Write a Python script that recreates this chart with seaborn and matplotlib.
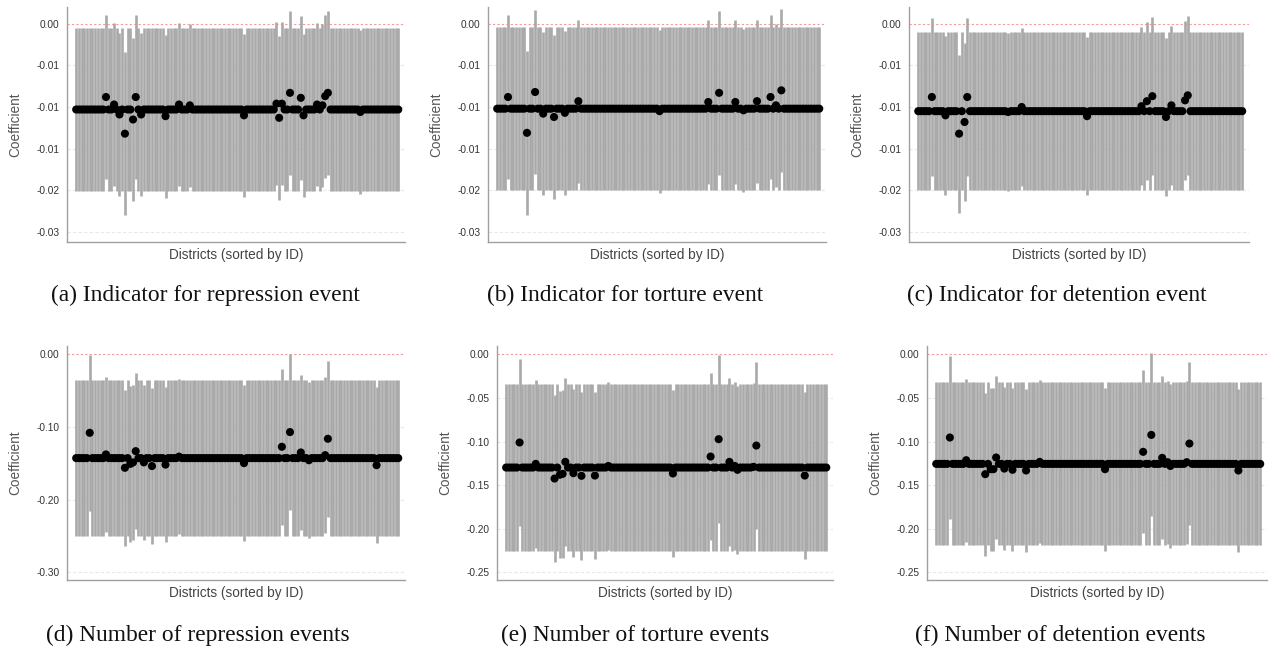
import matplotlib
matplotlib.use("Agg")
import matplotlib.pyplot as plt
import numpy as np
import pandas as pd
import seaborn as sns

N_DISTRICTS = 120

# (a) indicator for repression event
rep_ind_base = -0.0103
rep_ind_half = 0.0098
rep_ind_dev = {11: -0.0088, 14: -0.0097, 16: -0.0109, 18: -0.0132, 21: -0.0115,
               22: -0.0088, 24: -0.0109, 33: -0.0111, 38: -0.0097, 42: -0.0098,
               62: -0.0110, 74: -0.0096, 75: -0.0113, 76: -0.0096, 79: -0.0083,
               83: -0.0089, 84: -0.0110, 89: -0.0097, 91: -0.0098, 92: -0.0087,
               93: -0.0083, 105: -0.0106}

# (b) indicator for torture event
tor_ind_base = -0.0102
tor_ind_half = 0.0098
tor_ind_dev = {4: -0.0088, 11: -0.0131, 14: -0.0082, 17: -0.0108, 21: -0.0112,
               25: -0.0107, 30: -0.0093, 60: -0.0105, 78: -0.0094, 82: -0.0083,
               88: -0.0094, 91: -0.0104, 96: -0.0093, 101: -0.0088, 103: -0.0098,
               105: -0.0080}

# (c) indicator for detention event
det_ind_base = -0.0105
det_ind_half = 0.0095
det_ind_dev = {5: -0.0088, 10: -0.0110, 15: -0.0132, 17: -0.0118, 18: -0.0088,
               33: -0.0106, 38: -0.0100, 62: -0.0111, 82: -0.0099, 84: -0.0093,
               86: -0.0087, 91: -0.0112, 93: -0.0098, 98: -0.0092, 99: -0.0086}

# (d) number of repression events
rep_num_base = -0.1431
rep_num_half = 0.1070
rep_num_dev = {5: -0.1083, 11: -0.1380, 18: -0.1564, 20: -0.1510, 21: -0.1490,
               22: -0.1335, 25: -0.1490, 28: -0.1540, 33: -0.1520, 38: -0.1410,
               62: -0.1500, 76: -0.1275, 79: -0.1073, 83: -0.1353, 85: -0.1430,
               86: -0.1460, 92: -0.1390, 93: -0.1165, 111: -0.1528}

# (e) number of torture events
tor_num_base = -0.1298
tor_num_half = 0.0960
tor_num_dev = {5: -0.1011, 11: -0.1256, 18: -0.1424, 20: -0.1380, 21: -0.1370,
               22: -0.1233, 25: -0.1363, 28: -0.1393, 33: -0.1390, 38: -0.1280,
               62: -0.1366, 76: -0.1172, 79: -0.0973, 83: -0.1233, 85: -0.1280,
               86: -0.1324, 92: -0.1290, 93: -0.1046, 111: -0.1390}

# (f) number of detention events
det_num_base = -0.1256
det_num_half = 0.0935
det_num_dev = {5: -0.0954, 11: -0.1214, 18: -0.1374, 20: -0.1317, 21: -0.1317,
               22: -0.1183, 25: -0.1310, 28: -0.1324, 33: -0.1332, 38: -0.1233,
               62: -0.1317, 76: -0.1118, 79: -0.0924, 83: -0.1187, 85: -0.1237,
               86: -0.1280, 92: -0.1237, 93: -0.1023, 111: -0.1332}

captions = ["(a) Indicator for repression event", "(b) Indicator for torture event",
            "(c) Indicator for detention event", "(d) Number of repression events",
            "(e) Number of torture events", "(f) Number of detention events"]

small_ticks = [0.0, -0.005, -0.010, -0.015, -0.020, -0.025]
small_labels = ["0.00", "-0.01", "-0.01", "-0.01", "-0.02", "-0.03"]
rep_ticks = [0.0, -0.1, -0.2, -0.3]
rep_labels = ["0.00", "-0.10", "-0.20", "-0.30"]
mid_ticks = [0.0, -0.05, -0.10, -0.15, -0.20, -0.25]
mid_labels = ["0.00", "-0.05", "-0.10", "-0.15", "-0.20", "-0.25"]


def panel_frame(base, half, dev):
    coef = np.full(N_DISTRICTS, base)
    for idx, val in dev.items():
        coef[idx] = val
    return pd.DataFrame({"district": np.arange(N_DISTRICTS), "coef": coef,
                         "lo": coef - half, "hi": coef + half})


W, H = 1269, 657
# pixel boxes (left, top, right, bottom), y-limits, ticks, caption centre
panels = [
    (panel_frame(rep_ind_base, rep_ind_half, rep_ind_dev), (67, 7, 405, 242), (-0.0262, 0.0020), small_ticks, small_labels, 205, 295),
    (panel_frame(tor_ind_base, tor_ind_half, tor_ind_dev), (488, 7, 826, 242), (-0.0262, 0.0020), small_ticks, small_labels, 625, 295),
    (panel_frame(det_ind_base, det_ind_half, det_ind_dev), (909, 7, 1249, 242), (-0.0262, 0.0020), small_ticks, small_labels, 1057, 295),
    (panel_frame(rep_num_base, rep_num_half, rep_num_dev), (67, 346, 405, 580), (-0.3106, 0.011), rep_ticks, rep_labels, 198, 635),
    (panel_frame(tor_num_base, tor_num_half, tor_num_dev), (497, 346, 833, 580), (-0.2587, 0.0095), mid_ticks, mid_labels, 635, 635),
    (panel_frame(det_num_base, det_num_half, det_num_dev), (927, 346, 1267, 580), (-0.2587, 0.0095), mid_ticks, mid_labels, 1060, 635),
]

sns.set_theme(style="white")
plt.rcParams["font.family"] = ["Liberation Sans", "DejaVu Sans"]

fig = plt.figure(figsize=(W / 100, H / 100), dpi=100)

for (df, (l, t, r, b), ylim, ticks, labels, cap_x, cap_y), cap in zip(panels, captions):
    ax = fig.add_axes([l / W, 1 - b / H, (r - l) / W, (b - t) / H])
    for tk in ticks[1:]:
        ax.axhline(tk, color="#e8e8e8", linewidth=0.8, linestyle=(0, (3, 2)), zorder=0)
    ax.axhline(0, color="#f39a9a", linewidth=0.8, linestyle=(0, (2, 2)), zorder=1)
    ax.vlines(df["district"], df["lo"], df["hi"], color="#a9a9a9", linewidth=1.9, zorder=2)
    sns.scatterplot(data=df, x="district", y="coef", color="black", s=34,
                    edgecolor="none", linewidth=0, ax=ax, zorder=3)
    ax.set_xlim(-3.4, 121.5)
    ax.set_ylim(*ylim)
    ax.set_xticks([])
    ax.set_yticks(ticks)
    ax.set_yticklabels(labels)
    ax.set_xlabel("")
    ax.set_ylabel("")
    ax.tick_params(axis="y", direction="out", length=3.5, width=0.8, color="#a0a0a0",
                   labelsize=7.3, labelcolor="#333333", pad=2)
    for side in ["top", "right"]:
        ax.spines[side].set_visible(False)
    for side in ["left", "bottom"]:
        ax.spines[side].set_color("#a0a0a0")
        ax.spines[side].set_linewidth(1.0)

    fig.text((l - 52) / W, 1 - ((t + b) / 2) / H, "Coefficient", rotation=90,
             ha="center", va="center", fontsize=9.8, color="#555555")
    fig.text(((l + r) / 2) / W, 1 - (b + 13) / H, "Districts (sorted by ID)",
             ha="center", va="center", fontsize=9.8, color="#444444")
    fig.text(cap_x / W, 1 - cap_y / H, cap, ha="center", va="center",
             fontsize=16.8, family=["Liberation Serif", "DejaVu Serif"], color="#111111")

fig.savefig("out.png", dpi=100)
